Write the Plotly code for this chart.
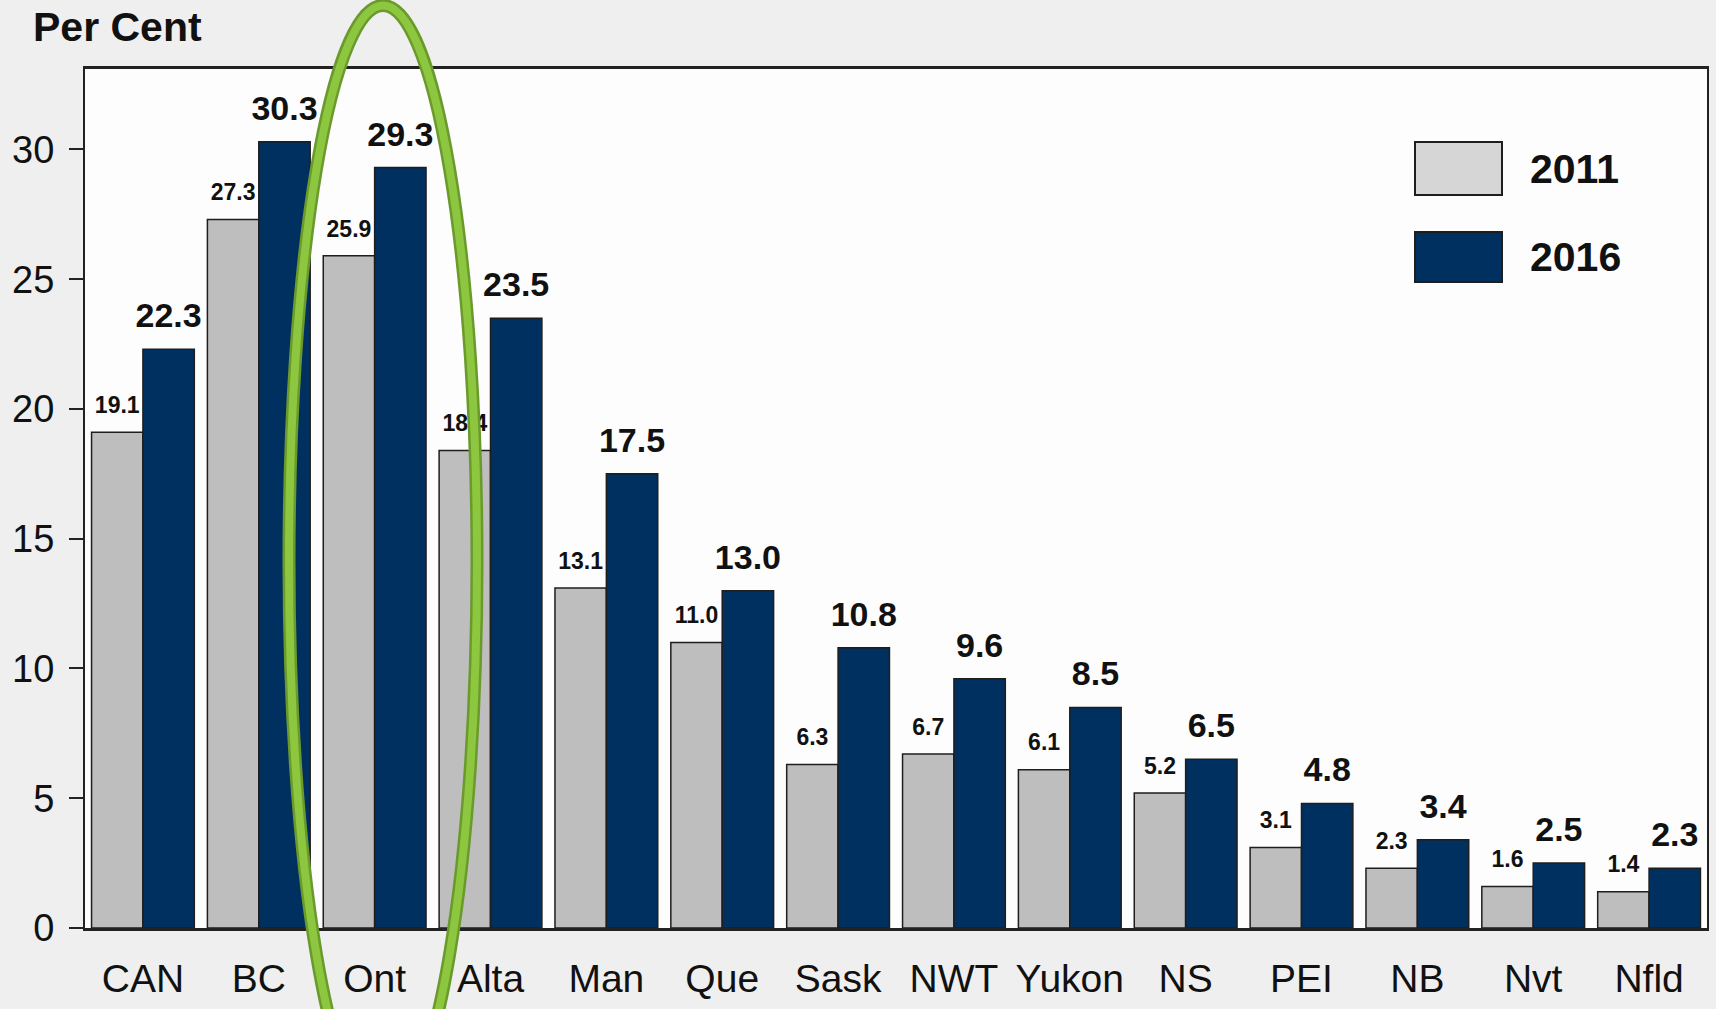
import plotly.graph_objects as go

categories = ["CAN", "BC", "Ont", "Alta", "Man", "Que", "Sask", "NWT", "Yukon", "NS", "PEI", "NB", "Nvt", "Nfld"]
series_names = ["2011", "2016"]
values_2011 = [19.1, 27.3, 25.9, 18.4, 13.1, 11.0, 6.3, 6.7, 6.1, 5.2, 3.1, 2.3, 1.6, 1.4]
values_2016 = [22.3, 30.3, 29.3, 23.5, 17.5, 13.0, 10.8, 9.6, 8.5, 6.5, 4.8, 3.4, 2.5, 2.3]
y_ticks = [0, 5, 10, 15, 20, 25, 30]
y_title = "Per Cent"

C2011 = "#bebebe"
C2016 = "#00305f"
EDGE = "#1e1e1e"
NARROW = "Liberation Sans Narrow, Arial Narrow, Liberation Sans, Arial, sans-serif"
SANS = "Liberation Sans, Arial, sans-serif"

fig = go.Figure()
for name, vals, col in [(series_names[0], values_2011, C2011), (series_names[1], values_2016, C2016)]:
    fig.add_trace(go.Bar(
        x=categories, y=vals, name=name, offsetgroup=name,
        marker=dict(color=col, line=dict(color=EDGE, width=1.5)),
        hoverinfo="x+y",
    ))

for name, vals, size in [(series_names[0], values_2011, 23), (series_names[1], values_2016, 34)]:
    fig.add_trace(go.Scatter(
        x=categories, y=vals, mode="markers+text", offsetgroup=name,
        text=[f"{v:.1f}" for v in vals], textposition="top center",
        textfont=dict(family=SANS, size=size, color="#111111", weight="bold"),
        marker=dict(size=20, opacity=0), hoverinfo="skip", cliponaxis=False,
        showlegend=False,
    ))

W0, W1 = 85, 1707
H0, H1 = 69, 928
PW, PH = W1 - W0, H1 - H0

def px(x):
    return (x - W0) / PW

def py(y):
    return (H1 - y) / PH

shapes = []
# legend boxes
for (top, bot), col in zip([(142, 195), (232, 282)], ["#d6d6d6", C2016]):
    shapes.append(dict(type="rect", xref="paper", yref="paper",
                       x0=px(1415), x1=px(1502), y0=py(bot), y1=py(top),
                       fillcolor=col, line=dict(color=EDGE, width=2), layer="above"))
# green highlight ellipse around Ont
shapes.append(dict(type="circle", xref="paper", yref="paper",
                   x0=px(289), x1=px(477), y0=py(1118), y1=py(5.5),
                   line=dict(color="#6a9a2c", width=13), layer="above"))
shapes.append(dict(type="circle", xref="paper", yref="paper",
                   x0=px(289), x1=px(477), y0=py(1118), y1=py(5.5),
                   line=dict(color="#8dc63f", width=8), layer="above"))

annotations = [
    dict(text=y_title, xref="paper", yref="paper", x=px(31), y=py(27),
         xanchor="left", yanchor="middle", showarrow=False,
         font=dict(family=SANS, size=41, color="#111111", weight="bold")),
]
for name, yc in zip(series_names, [169, 257]):
    annotations.append(dict(text=name, xref="paper", yref="paper", x=px(1528), y=py(yc),
                            xanchor="left", yanchor="middle", showarrow=False,
                            font=dict(family=SANS, size=41, color="#111111", weight="bold")))

fig.update_layout(
    width=1716, height=1009,
    margin=dict(l=W0, r=1716 - W1, t=H0, b=1009 - H1, pad=0, autoexpand=False),
    paper_bgcolor="#efefef", plot_bgcolor="#fdfdfd",
    barmode="group", bargap=0.113, bargroupgap=0,
    scattermode="group", scattergap=0.113,
    showlegend=False,
    shapes=shapes, annotations=annotations,
    xaxis=dict(
        type="category", showgrid=False, ticks="", showline=True, linecolor="#222222",
        linewidth=2.5, mirror=True, ticklabelstandoff=14, tickangle=0, automargin=False,
        tickfont=dict(family=NARROW, size=39, color="#111111"),
    ),
    yaxis=dict(
        range=[0, 33.1], tickvals=y_ticks, showgrid=False, zeroline=False,
        ticks="outside", ticklen=14, tickwidth=2, tickcolor="#222222",
        showline=True, linecolor="#222222", linewidth=2, mirror=True,
        ticklabelstandoff=7, automargin=False,
        tickfont=dict(family=NARROW, size=38, color="#111111"),
    ),
)

fig.write_html(
    "out.html",
    config={"displayModeBar": False},
    post_script="document.body.style.margin='0';document.body.style.background='#efefef';",
)
